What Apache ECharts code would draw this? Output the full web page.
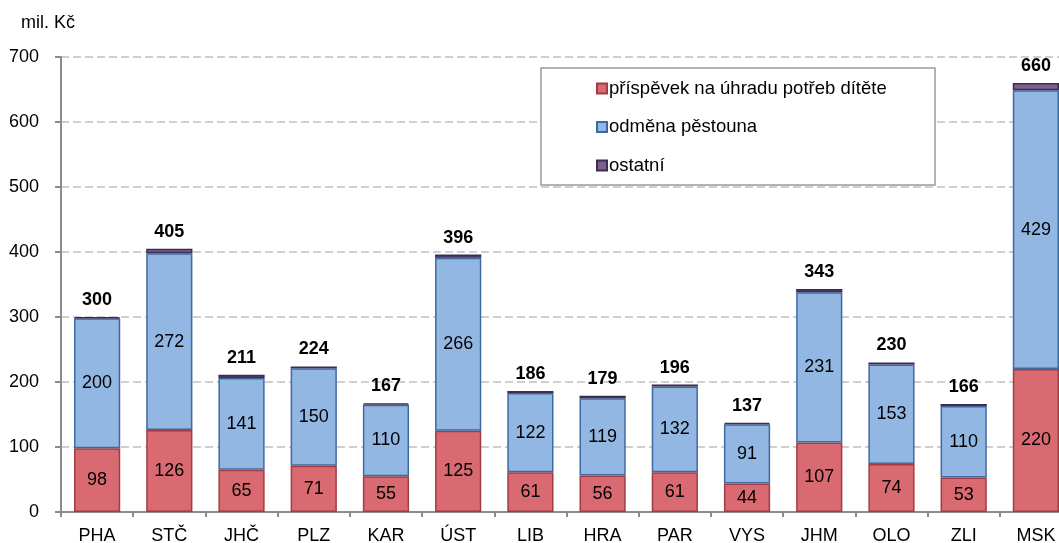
<!DOCTYPE html>
<html>
<head>
<meta charset="utf-8">
<script src="https://cdn.jsdelivr.net/npm/echarts@6/dist/echarts.min.js"></script>
<style>html,body{margin:0;padding:0;background:#fff;overflow:hidden}#c{width:1073px;height:543px}</style>
</head>
<body>
<div id="c"></div>
<script>
const categories = ['PHA','STČ','JHČ','PLZ','KAR','ÚST','LIB','HRA','PAR','VYS','JHM','OLO','ZLI','MSK'];
const prispevek = [98,126,65,71,55,125,61,56,61,44,107,74,53,220];
const odmena = [200,272,141,150,110,266,122,119,132,91,231,153,110,429];
const ostatni = [2,7,5,3,2,5,3,4,3,2,5,3,3,11];
const totals = [300,405,211,224,167,396,186,179,196,137,343,230,166,660];
const yTicks = [0,100,200,300,400,500,600,700];

const FONT = 'Liberation Sans, Arial, sans-serif';
const chart = echarts.init(document.getElementById('c'));
const lab = {show:true, position:'inside', color:'#000', fontSize:18, fontFamily:FONT};
chart.setOption({
  animation:false,
  textStyle:{fontFamily:FONT},
  title:{text:'mil. Kč', left:16, top:9, textStyle:{fontSize:18, fontWeight:'normal', color:'#000', fontFamily:FONT}},
  graphic:[{type:'rect', shape:{x:541, y:68, width:394, height:117}, style:{fill:'#fff', stroke:'#9a9a9a', lineWidth:1.5}, z:10}],
  legend:{
    orient:'vertical', left:591, top:74, itemWidth:10, itemHeight:10, itemGap:19.5,
    icon:'rect', z:20,
    textStyle:{fontSize:18.5, color:'#000', fontFamily:FONT, padding:[0,0,0,-3]},
    data:['příspěvek na úhradu potřeb dítěte','odměna pěstouna','ostatní']
  },
  grid:{left:61, right:1, top:57, bottom:31, containLabel:false, outerBoundsMode:'none'},
  xAxis:{
    type:'category', data:categories,
    axisLine:{lineStyle:{color:'#8c8c8c', width:2}},
    axisTick:{show:true, length:5, lineStyle:{color:'#8c8c8c', width:2}},
    axisLabel:{color:'#000', fontSize:18, margin:15, fontFamily:FONT}
  },
  yAxis:{
    type:'value', min:0, max:700, interval:100,
    axisLine:{show:true, lineStyle:{color:'#8c8c8c', width:2}},
    axisTick:{show:true, length:6, lineStyle:{color:'#8c8c8c', width:2}},
    axisLabel:{color:'#000', fontSize:18, margin:22, fontFamily:FONT,
      formatter:v=>yTicks.includes(v)?String(v):''},
    splitLine:{lineStyle:{color:'#c0c0c0', type:[8,4], width:1.5}}
  },
  series:[
    {name:'příspěvek na úhradu potřeb dítěte', type:'bar', stack:'a', data:prispevek, barWidth:'64%',
      itemStyle:{color:'#d96a72', borderColor:'#a23c43', borderWidth:1.5}, label:lab},
    {name:'odměna pěstouna', type:'bar', stack:'a', data:odmena,
      itemStyle:{color:'#93b7e3', borderColor:'#3f6aa0', borderWidth:1.5}, label:lab},
    {name:'ostatní', type:'bar', stack:'a', data:ostatni,
      itemStyle:{color:'#7f5f8e', borderColor:'#3d2c52', borderWidth:1.5},
      label:{show:true, position:'top', distance:8, color:'#000', fontSize:18, fontWeight:'bold', fontFamily:FONT,
        formatter:p=>totals[p.dataIndex]}}
  ]
});
</script>
</body>
</html>
